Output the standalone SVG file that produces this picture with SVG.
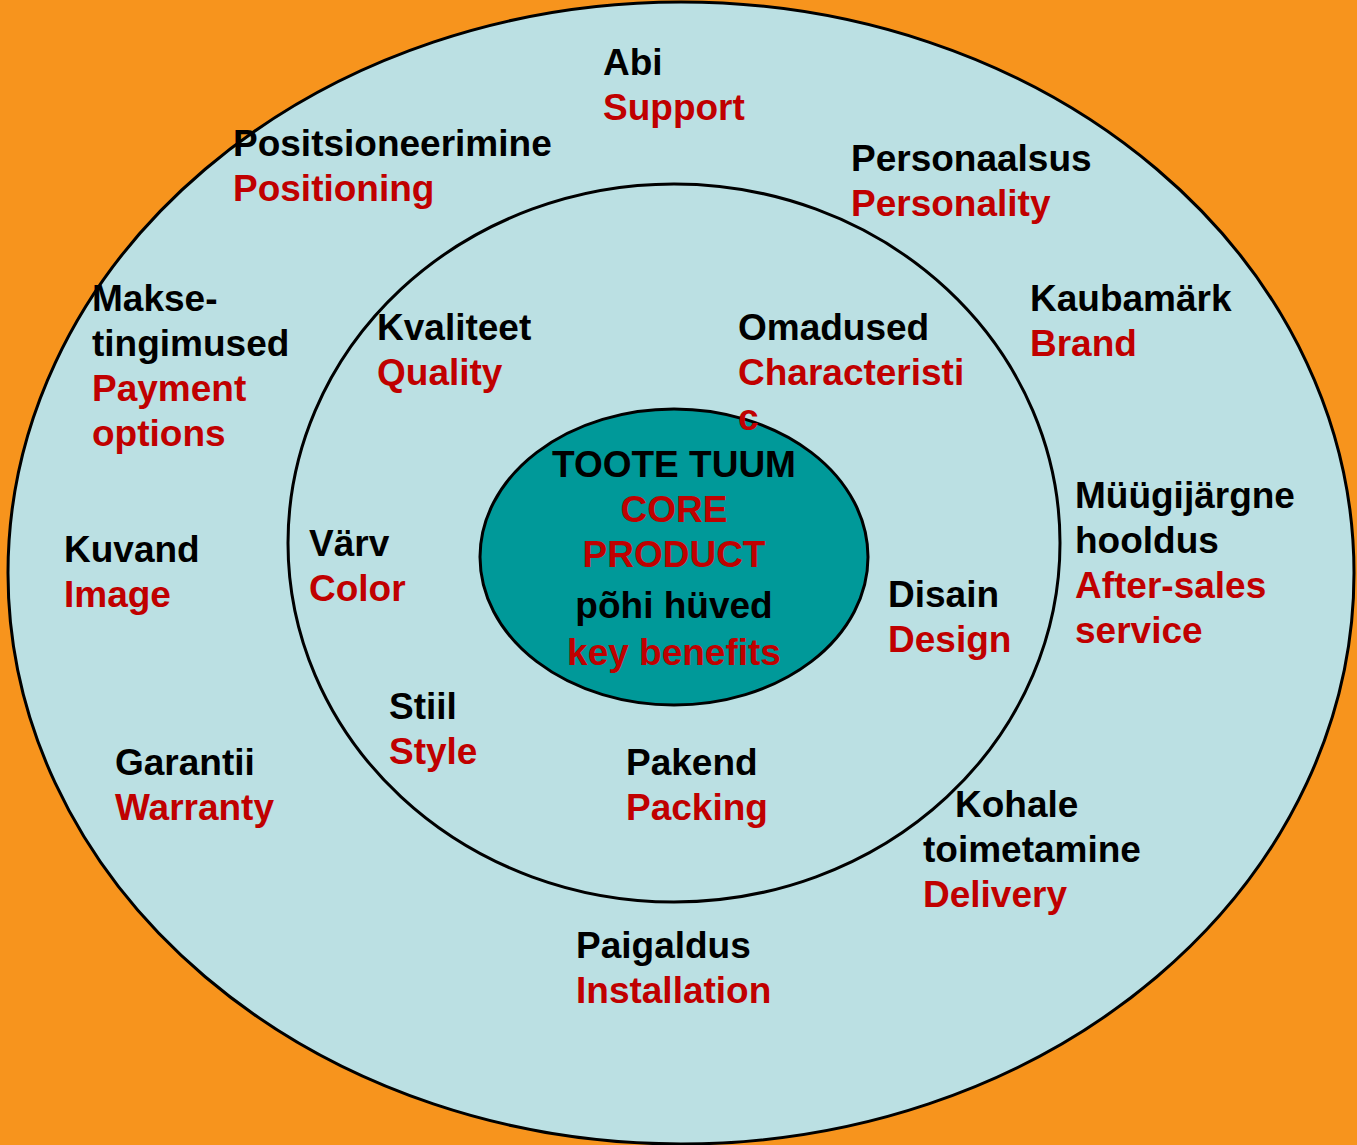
<svg xmlns="http://www.w3.org/2000/svg" width="1357" height="1145" viewBox="0 0 1357 1145">
<style>
text{font-family:"Liberation Sans",Arial,sans-serif;font-weight:bold;font-size:37px}
.k{fill:#000}
.r{fill:#C00000}
.ring{stroke:#000;stroke-width:3}
</style>
<rect x="0" y="0" width="1357" height="1145" fill="#F7941D"/>
<g id="outer-ring"><ellipse class="ring" cx="681" cy="573" rx="673" ry="571" fill="#BBE0E3"/></g>
<g id="middle-ring"><ellipse class="ring" cx="674" cy="543" rx="386" ry="359" fill="#BBE0E3"/></g>
<g id="core"><ellipse class="ring" cx="674" cy="557" rx="194" ry="148" fill="#009999"/>
<text x="674" y="477" text-anchor="middle" class="k">TOOTE TUUM</text>
<text x="674" y="522" text-anchor="middle" class="r">CORE</text>
<text x="674" y="567" text-anchor="middle" class="r">PRODUCT</text>
<text x="674" y="618" text-anchor="middle" class="k">põhi hüved</text>
<text x="674" y="665" text-anchor="middle" class="r">key benefits</text>
</g>
<g id="abi"><text x="603" y="75" class="k">Abi</text><text x="603" y="120" class="r">Support</text></g>
<g id="positsioneerimine"><text x="233" y="156" class="k">Positsioneerimine</text><text x="233" y="201" class="r">Positioning</text></g>
<g id="personaalsus"><text x="851" y="171" class="k">Personaalsus</text><text x="851" y="216" class="r">Personality</text></g>
<g id="kaubamark"><text x="1030" y="311" class="k">Kaubamärk</text><text x="1030" y="356" class="r">Brand</text></g>
<g id="makse"><text x="92" y="311" class="k">Makse-</text><text x="92" y="356" class="k">tingimused</text><text x="92" y="401" class="r">Payment</text><text x="92" y="446" class="r">options</text></g>
<g id="kvaliteet"><text x="377" y="340" class="k">Kvaliteet</text><text x="377" y="385" class="r">Quality</text></g>
<g id="omadused"><text x="738" y="340" class="k">Omadused</text><text x="738" y="385" class="r">Characteristi</text><text x="738" y="430" class="r">c</text></g>
<g id="muugijargne"><text x="1075" y="508" class="k">Müügijärgne</text><text x="1075" y="553" class="k">hooldus</text><text x="1075" y="598" class="r">After-sales</text><text x="1075" y="643" class="r">service</text></g>
<g id="kuvand"><text x="64" y="562" class="k">Kuvand</text><text x="64" y="607" class="r">Image</text></g>
<g id="varv"><text x="309" y="556" class="k">Värv</text><text x="309" y="601" class="r">Color</text></g>
<g id="disain"><text x="888" y="607" class="k">Disain</text><text x="888" y="652" class="r">Design</text></g>
<g id="stiil"><text x="389" y="719" class="k">Stiil</text><text x="389" y="764" class="r">Style</text></g>
<g id="pakend"><text x="626" y="775" class="k">Pakend</text><text x="626" y="820" class="r">Packing</text></g>
<g id="garantii"><text x="115" y="775" class="k">Garantii</text><text x="115" y="820" class="r">Warranty</text></g>
<g id="kohale"><text x="955" y="817" class="k">Kohale</text><text x="923" y="862" class="k">toimetamine</text><text x="923" y="907" class="r">Delivery</text></g>
<g id="paigaldus"><text x="576" y="958" class="k">Paigaldus</text><text x="576" y="1003" class="r">Installation</text></g>
<g id="connectors"></g>
</svg>
